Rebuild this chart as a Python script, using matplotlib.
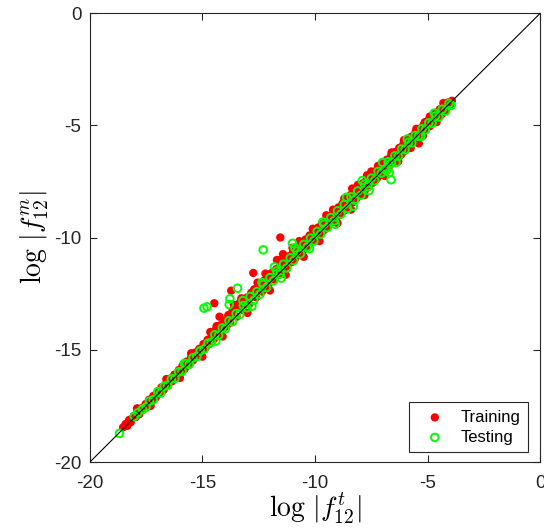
import matplotlib
matplotlib.use('Agg')
import matplotlib.pyplot as plt

# training points (log|f_t|, log|f_m|)
train_x = [-18.52, -18.41, -18.33, -18.25, -18.18, -18.05, -17.96, -17.88, -17.80, -17.71, -17.63, -17.52,
           -17.45, -17.37, -17.26, -17.18, -17.07, -16.98, -16.90, -16.81, -16.72, -16.60, -16.53, -16.44,
           -16.35, -16.24, -16.16, -16.05, -15.97, -15.88, -15.79, -15.70, -15.61, -15.50, -15.42, -15.33,
           -15.24, -15.14, -15.05, -14.95, -14.86, -14.77, -14.68, -14.58, -14.49, -14.40, -14.37, -14.24,
           -14.47, -14.30, -14.20, -14.11, -14.02, -13.93, -13.85, -13.72, -13.76, -13.66, -13.55, -13.48,
           -13.38, -13.27, -13.20, -13.10, -13.00, -12.92, -12.83, -12.74, -12.70, -12.61, -12.52, -12.43,
           -12.35, -12.25, -12.16, -12.08, -11.98, -11.90, -11.81, -11.69, -11.72, -11.54, -11.42, -11.62,
           -11.52, -11.43, -11.34, -11.25, -11.15, -11.06, -10.97, -10.88, -10.79, -10.70, -10.61, -10.52,
           -10.42, -10.33, -10.24, -10.15, -10.05, -9.96, -9.87, -9.78, -9.69, -9.60, -9.50, -9.41,
           -9.32, -9.23, -9.14, -9.05, -8.96, -8.87, -8.78, -8.69, -8.60, -8.51, -8.35, -8.42,
           -8.33, -8.24, -8.15, -8.06, -7.97, -7.88, -7.79, -7.69, -7.70, -7.61, -7.52, -7.43,
           -7.34, -7.25, -7.16, -7.07, -6.98, -6.89, -6.80, -6.71, -6.62, -6.53, -6.44, -6.35,
           -6.26, -6.17, -6.08, -5.99, -5.90, -5.81, -5.72, -5.63, -5.54, -5.39, -5.45, -5.36,
           -5.27, -5.12, -5.18, -5.09, -5.00, -4.91, -4.82, -4.73, -4.64, -4.55, -4.46, -4.37,
           -4.28, -4.19, -4.10, -4.00, -3.92,
           -17.90, -17.30, -16.60, -16.00, -15.50, -15.00, -14.65, -14.10, -13.60, -13.30, -13.00, -12.55,
           -12.20, -12.00, -11.60, -11.30, -11.00, -10.70, -10.50, -10.10, -9.80, -9.50, -9.20, -9.00,
           -8.70, -8.40, -8.10, -7.80, -7.50, -7.20, -6.90, -6.60, -6.30, -6.05, -5.75, -5.50,
           -5.20, -4.90, -4.60, -4.30]
train_y = [-18.45, -18.30, -18.38, -18.12, -18.22, -17.95, -17.99, -17.72, -17.86, -17.60, -17.66, -17.41,
           -17.50, -17.22, -17.30, -17.05, -17.12, -16.84, -16.95, -16.66, -16.78, -16.47, -16.58, -16.28,
           -16.40, -16.10, -16.21, -15.90, -16.03, -15.70, -15.85, -15.52, -15.66, -15.33, -15.47, -15.12,
           -15.30, -14.95, -15.10, -14.74, -14.90, -14.55, -14.73, -14.35, -14.52, -14.10, -13.94, -13.52,
           -12.92, -14.32, -13.90, -14.12, -13.70, -13.95, -13.45, -12.36, -13.78, -13.25, -13.10, -13.52,
           -12.95, -12.70, -13.22, -12.78, -12.65, -12.96, -12.45, -11.57, -12.30, -12.66, -12.15, -12.05,
           -12.40, -11.90, -11.85, -12.14, -11.62, -11.55, -11.86, -10.99, -11.40, -9.99, -10.73, -11.66,
           -11.20, -11.47, -11.00, -11.28, -10.82, -11.10, -10.62, -10.93, -10.45, -10.74, -10.25, -10.56,
           -10.08, -10.38, -9.90, -10.22, -9.75, -10.02, -9.55, -9.85, -9.38, -9.66, -9.20, -9.50,
           -9.02, -9.30, -8.85, -9.12, -8.65, -8.95, -8.48, -8.78, -8.30, -8.62, -7.81, -8.10,
           -8.43, -7.95, -8.25, -7.78, -8.08, -7.58, -7.90, -7.22, -7.40, -7.72, -7.22, -7.55,
           -7.05, -7.36, -6.88, -7.18, -6.70, -7.00, -6.52, -6.82, -6.35, -6.66, -6.18, -6.48,
           -6.00, -6.30, -5.84, -6.12, -5.66, -5.94, -5.50, -5.76, -5.32, -5.80, -5.58, -5.15,
           -5.40, -4.85, -4.98, -5.22, -4.80, -5.04, -4.62, -4.86, -4.46, -4.68, -4.28, -4.50,
           -4.12, -4.32, -3.98, -4.10, -3.90,
           -17.60, -17.50, -16.30, -16.25, -15.15, -15.30, -14.20, -14.40, -13.00, -12.85, -13.35, -12.00,
           -11.60, -12.35, -11.00, -11.65, -10.45, -10.15, -10.85, -9.60, -10.15, -9.00, -8.75, -9.35,
           -8.25, -8.75, -7.65, -8.10, -7.05, -6.80, -7.25, -6.20, -6.60, -5.65, -6.00, -5.15,
           -5.45, -4.60, -4.85, -4.00]

# testing points
test_x = [-18.68, -18.02, -17.86, -17.66, -17.50, -17.35, -17.18, -16.98, -16.85, -16.70, -16.55, -16.38,
          -16.22, -16.05, -15.90, -15.72, -15.58, -15.42, -15.25, -15.10, -14.93, -14.79, -14.92, -14.75,
          -14.60, -14.45, -14.28, -14.12, -13.98, -13.81, -13.78, -13.44, -13.82, -13.66, -13.50, -13.34,
          -13.18, -13.02, -12.88, -12.72, -12.58, -12.45, -12.30, -12.30, -12.15, -12.00, -11.85, -11.70,
          -11.55, -11.40, -11.25, -11.00, -11.10, -10.95, -10.80, -10.65, -10.50, -10.35, -10.20, -10.05,
          -9.90, -9.75, -9.60, -9.45, -9.30, -9.15, -9.00, -8.85, -8.70, -8.55, -8.40, -8.25,
          -8.10, -7.95, -7.80, -7.65, -7.50, -7.35, -7.20, -7.05, -6.90, -6.75, -6.62, -6.70,
          -6.60, -6.45, -6.30, -6.15, -6.00, -5.85, -5.70, -5.55, -5.40, -5.25, -5.10, -4.95,
          -4.80, -4.65, -4.50, -4.35, -4.20, -4.05, -3.95,
          -15.80, -14.40, -13.20, -12.80, -12.35, -11.80, -11.50, -10.90, -10.25, -9.65, -9.10, -8.60,
          -8.30, -7.90, -7.60, -7.00, -6.80, -6.40, -5.90, -5.30, -4.70]
test_y = [-18.72, -17.96, -17.80, -17.64, -17.55, -17.28, -17.22, -16.86, -16.92, -16.62, -16.58, -16.30,
          -16.27, -15.98, -15.95, -15.62, -15.64, -15.35, -15.30, -15.04, -13.14, -13.08, -14.96, -14.70,
          -14.66, -14.32, -14.35, -14.02, -14.06, -12.98, -12.72, -12.25, -13.70, -13.74, -13.38, -13.42,
          -13.02, -13.12, -12.62, -12.80, -12.40, -12.52, -10.54, -12.08, -12.22, -11.78, -11.92, -11.48,
          -11.62, -11.18, -11.35, -10.25, -10.90, -11.02, -10.60, -10.72, -10.30, -10.42, -10.02, -10.14,
          -9.72, -9.84, -9.40, -9.55, -9.10, -9.25, -8.80, -8.95, -8.52, -8.70, -8.18, -8.32,
          -7.92, -8.10, -7.62, -7.72, -7.35, -7.46, -7.05, -7.12, -6.95, -6.62, -7.42, -7.10,
          -6.68, -6.35, -6.38, -6.05, -6.08, -5.75, -5.78, -5.45, -5.48, -5.15, -5.20, -4.88,
          -4.90, -4.58, -4.62, -4.28, -4.36, -4.02, -4.10,
          -15.60, -14.60, -12.80, -13.05, -12.00, -11.30, -11.80, -10.45, -10.50, -9.30, -9.40, -8.20,
          -8.60, -7.45, -7.90, -6.65, -7.00, -6.65, -5.60, -5.50, -4.45]

ticks = [-20, -15, -10, -5, 0]
tick_labels = ['-20', '-15', '-10', '-5', '0']

plt.rcParams['font.family'] = ['Liberation Sans', 'DejaVu Sans']
plt.rcParams['mathtext.fontset'] = 'cm'

fig = plt.figure(figsize=(5.44, 5.30), dpi=100)
ax = fig.add_axes([0.165, 0.128, 0.828, 0.847])

axcol = '#262626'
ax.plot([-20, 0], [-20, 0], color='black', lw=0.8, zorder=3)
ax.scatter(train_x, train_y, s=36, color='red', edgecolors='none', label='Training', zorder=1)
ax.scatter(test_x, test_y, s=30, facecolors='none', edgecolors=(0, 1, 0), linewidths=1.4,
           label='Testing', zorder=2)

ax.set_xlim(-20, 0)
ax.set_ylim(-20, 0)
ax.set_xticks(ticks)
ax.set_xticklabels(tick_labels)
ax.set_yticks(ticks)
ax.set_yticklabels(tick_labels)
ax.tick_params(direction='in', top=True, right=True, length=5, width=0.8,
               labelsize=13.5, colors=axcol)
ax.tick_params(axis='x', pad=9)
ax.tick_params(axis='y', pad=6)
for sp in ax.spines.values():
    sp.set_color(axcol)
    sp.set_linewidth(0.8)

ax.set_xlabel(r'$\log\,|f^{t}_{12}|$', fontsize=20, labelpad=0)
ax.set_ylabel(r'$\log\,|f^{m}_{12}|$', fontsize=20, labelpad=2)

leg = ax.legend(loc='lower right', bbox_to_anchor=(0.973, 0.022), borderaxespad=0,
                fontsize=12, frameon=True, fancybox=False, framealpha=1,
                edgecolor=axcol, handletextpad=0.45, borderpad=0.45,
                labelspacing=0.3, handlelength=2.2)
leg.get_frame().set_linewidth(0.8)

fig.savefig('out.png', dpi=100)
